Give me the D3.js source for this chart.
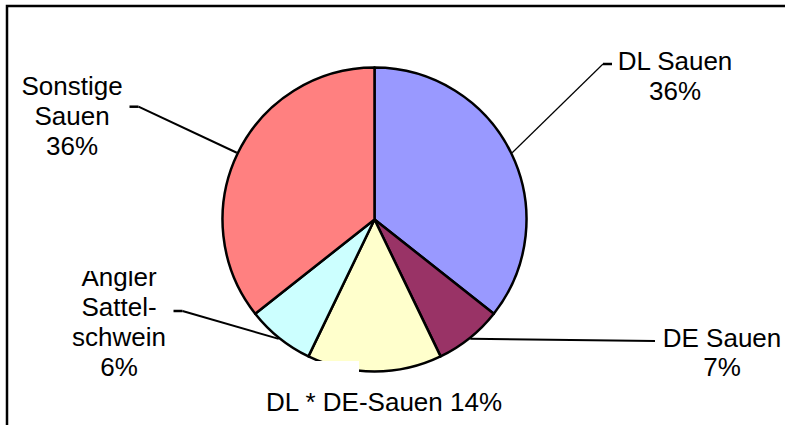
<!DOCTYPE html>
<html>
<head>
<meta charset="utf-8">
<script src="https://cdn.jsdelivr.net/npm/d3@7/dist/d3.min.js"></script>
<style>
  html, body { margin: 0; padding: 0; background: #fff; }
  svg { display: block; }
  text { font-family: "Liberation Sans", Arial, sans-serif; font-size: 26px; fill: #000; }
</style>
</head>
<body>
<svg id="chart" width="785" height="425"></svg>
<script>
// ---- data ----
const categories = ["DL Sauen", "DE Sauen", "DL * DE-Sauen", "Angler Sattelschwein", "Sonstige Sauen"];
const values = [35.6, 7.2, 14.3, 7.2, 35.6];
const percentLabels = ["36%", "7%", "14%", "6%", "36%"];
const colors = ["#9999FF", "#993366", "#FFFFCC", "#CCFFFF", "#FF8080"];
const labelLines = [
  ["DL Sauen", "36%"],
  ["DE Sauen", "7%"],
  ["DL * DE-Sauen 14%"],
  ["Angler", "Sattel-", "schwein", "6%"],
  ["Sonstige", "Sauen", "36%"]
];

// ---- layout ----
const svg = d3.select("#chart");
const cx = 374.5, cy = 219.5, r = 152;

// frame (extends beyond right/bottom edges)
svg.append("rect")
  .attr("x", 7).attr("y", 6).attr("width", 820).attr("height", 460)
  .attr("fill", "none").attr("stroke", "#000").attr("stroke-width", 2.5);

const pie = d3.pie().sort(null).value(d => d)(values);
const arc = d3.arc().innerRadius(0).outerRadius(r);

const g = svg.append("g").attr("transform", `translate(${cx},${cy})`);
g.selectAll("path.slice").data(pie).join("path")
  .attr("class", "slice")
  .attr("d", arc)
  .attr("fill", (d, i) => colors[i])
  .attr("stroke", "#000")
  .attr("stroke-width", 2.5)
  .attr("stroke-linejoin", "round");

// white patch over the bottom of the pie (label background)
svg.append("rect")
  .attr("x", 309).attr("y", 361).attr("width", 50).attr("height", 13)
  .attr("fill", "#fff");

// label layout: text center x, first baseline y, line spacing, leader elbow and end
const labelLayout = [
  { x: 675, y: 70, dy: 29.5, elbow: [603, 64], end: [612, 64], w1: 1.2 },
  { x: 722, y: 346.5, dy: 29.5, elbow: null, end: [655, 341], w1: 2 },
  { x: 384, y: 410.5, dy: 29.5, elbow: null, end: null },
  { x: 119, y: 285.5, dy: 30.2, elbow: [182.5, 311], end: [173.5, 311], w1: 2, clipTop: 271 },
  { x: 72, y: 95, dy: 30, elbow: [138.5, 106.7], end: [129.5, 106.7], w1: 2 }
];

const outer = d3.arc().innerRadius(r + 1).outerRadius(r + 1);

pie.forEach((d, i) => {
  const L = labelLayout[i];
  if (L.end) {
    const mid = (d.startAngle + d.endAngle) / 2;
    const sx = cx + (r + 1) * Math.sin(mid);
    const sy = cy - (r + 1) * Math.cos(mid);
    if (L.elbow) {
      svg.append("line")
        .attr("x1", sx).attr("y1", sy).attr("x2", L.elbow[0]).attr("y2", L.elbow[1])
        .attr("stroke", "#000").attr("stroke-width", L.w1);
      svg.append("line")
        .attr("x1", L.elbow[0]).attr("y1", L.elbow[1]).attr("x2", L.end[0]).attr("y2", L.end[1])
        .attr("stroke", "#000").attr("stroke-width", 2.5);
    } else {
      svg.append("line")
        .attr("x1", sx).attr("y1", sy).attr("x2", L.end[0]).attr("y2", L.end[1])
        .attr("stroke", "#000").attr("stroke-width", L.w1);
    }
  }
  let parent = svg;
  if (L.clipTop !== undefined) {
    const id = "clip" + i;
    svg.append("clipPath").attr("id", id)
      .append("rect").attr("x", 0).attr("y", L.clipTop).attr("width", 785).attr("height", 425);
    parent = svg.append("g").attr("clip-path", `url(#${id})`);
  }
  const t = parent.append("text").attr("text-anchor", "middle");
  labelLines[i].forEach((line, k) => {
    t.append("tspan").attr("x", L.x).attr("y", L.y + k * L.dy).text(line);
  });
});
</script>
</body>
</html>
